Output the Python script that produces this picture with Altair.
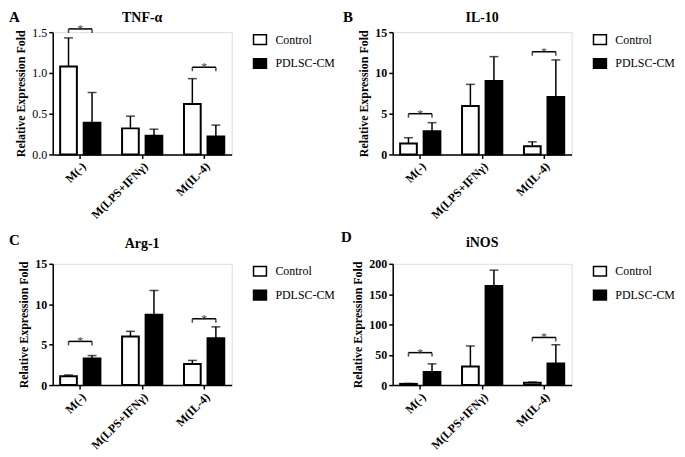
import altair as alt
import pandas as pd

FONT = "Liberation Serif"

CATEGORIES = ["M(-)", "M(LPS+IFNγ)", "M(IL-4)"]
GROUPS = ["Control", "PDLSC-CM"]
TITLES = ["TNF-α", "IL-10", "Arg-1", "iNOS"]
LETTERS = ["A", "B", "C", "D"]
Y_TITLE = "Relative Expression Fold"

# mean values and top of the error bar (mean + SD), per category
TNF_CONTROL = [1.08, 0.32, 0.62]
TNF_CONTROL_TOP = [1.43, 0.47, 0.93]
TNF_PDLSC = [0.39, 0.23, 0.22]
TNF_PDLSC_TOP = [0.76, 0.31, 0.36]
TNF_SIG = [1.54, None, 1.07]

IL10_CONTROL = [1.35, 5.95, 1.0]
IL10_CONTROL_TOP = [2.05, 8.6, 1.55]
IL10_PDLSC = [2.85, 9.0, 7.05]
IL10_PDLSC_TOP = [3.9, 12.0, 11.6]
IL10_SIG = [5.0, None, 12.6]

ARG_CONTROL = [1.1, 6.0, 2.6]
ARG_CONTROL_TOP = [1.25, 6.65, 3.05]
ARG_PDLSC = [3.3, 8.7, 5.8]
ARG_PDLSC_TOP = [3.65, 11.7, 7.2]
ARG_SIG = [5.4, None, 8.2]

INOS_CONTROL = [2.0, 30.5, 4.0]
INOS_CONTROL_TOP = [2.6, 64.5, 5.0]
INOS_PDLSC = [21.5, 163.5, 35.5]
INOS_PDLSC_TOP = [35.0, 189.5, 66.5]
INOS_SIG = [53.5, None, 78.5]

Y_MAX = [1.5, 15, 15, 200]
Y_TICKS = [[0, 0.5, 1.0, 1.5], [0, 5, 10, 15], [0, 5, 10, 15], [0, 50, 100, 150, 200]]
Y_FORMAT = [".1f", "d", "d", "d"]


def panel(idx, ctrl, ctrl_top, pdl, pdl_top, sig, w, h, letter_dx, head_dy, bold_ticks):
    cats = CATEGORIES * 2
    grps = [GROUPS[0]] * 3 + [GROUPS[1]] * 3
    df = pd.DataFrame({"cat": cats, "grp": grps, "val": ctrl + pdl, "top": ctrl_top + pdl_top})
    cap_df = pd.DataFrame({"cat": cats, "grp": grps, "val": ctrl_top + pdl_top})
    sig_cats = [c for c, l in zip(CATEGORIES, sig) if l is not None]
    sig_lvls = [l for l in sig if l is not None]
    sig_df = pd.DataFrame({"cat": sig_cats, "val": sig_lvls, "star": ["*"] * len(sig_cats)})
    br_df = sig_df.merge(pd.DataFrame({"grp": GROUPS}), how="cross")

    xs = alt.Scale(domain=CATEGORIES, paddingInner=0.35, paddingOuter=0.12)
    xos = alt.Scale(domain=GROUPS, paddingInner=0.29, paddingOuter=0)
    ys = alt.Scale(domain=[0, Y_MAX[idx]], nice=False, zero=True)
    cs = alt.Scale(domain=GROUPS, range=["white", "black"])

    x_axis = alt.Axis(
        labelAngle=-45, labelFont=FONT, labelFontSize=12, labelFontWeight="bold",
        labelColor="black", tickSize=4, tickWidth=1.5, tickColor="black",
        domainWidth=1.5, domainColor="black", labelPadding=2, title=None,
    )
    y_axis = alt.Axis(
        values=Y_TICKS[idx], format=Y_FORMAT[idx], title=Y_TITLE,
        titleFont=FONT, titleFontSize=12, titleFontWeight="bold", titleColor="black",
        labelFont=FONT, labelFontSize=12, labelOverlap=False,
        labelFontWeight="bold" if bold_ticks else "normal", labelColor="black",
        tickSize=4, tickWidth=1.5, tickColor="black", domainWidth=1.5,
        domainColor="black", labelPadding=2, titlePadding=4, grid=False,
    )
    legend = alt.Legend(
        title=None, orient="none", legendX=w + 21, legendY=0,
        symbolType="M-1,-0.75H1V0.75H-1Z", symbolSize=169,
        symbolStrokeColor="black", symbolStrokeWidth=1.5,
        labelFont=FONT, labelFontSize=12, labelColor="black",
        labelOffset=8, rowPadding=7, padding=0,
    )

    def xc():
        return alt.X("cat:N", scale=xs, sort=CATEGORIES, axis=x_axis)

    def xo():
        return alt.XOffset("grp:N", scale=xos, sort=GROUPS)

    def yv():
        return alt.Y("val:Q", scale=ys, axis=y_axis)

    bars = alt.Chart(df).mark_bar(stroke="black", strokeWidth=2).encode(
        x=xc(), xOffset=xo(), y=yv(),
        color=alt.Color("grp:N", scale=cs, legend=legend),
    )
    err = alt.Chart(df).mark_rule(color="black", strokeWidth=1.5).encode(
        x=xc(), xOffset=xo(), y=yv(), y2="top:Q",
    )
    cap = alt.Chart(cap_df).mark_tick(color="black", thickness=1.5, size=9).encode(
        x=xc(), xOffset=xo(), y=yv(),
    )
    br_line = alt.Chart(br_df).mark_line(color="black", strokeWidth=1.5).encode(
        x=xc(), xOffset=xo(), y=yv(), detail="cat:N",
    )
    br_end = alt.Chart(br_df).mark_tick(
        color="black", orient="vertical", size=4, thickness=1.5, yOffset=2
    ).encode(x=xc(), xOffset=xo(), y=yv())
    star = alt.Chart(sig_df).mark_text(
        font=FONT, fontSize=12, color="#444444", baseline="alphabetic", dy=4
    ).encode(x=xc(), y=yv(), text="star:N")
    head = pd.DataFrame({"letter": [LETTERS[idx]], "title": [TITLES[idx]]})
    letter = alt.Chart(head).mark_text(
        font=FONT, fontSize=15, fontWeight="bold", align="left",
        baseline="alphabetic", color="black",
    ).encode(x=alt.value(letter_dx), y=alt.value(head_dy[0]), text="letter:N")
    title = alt.Chart(head).mark_text(
        font=FONT, fontSize=14, fontWeight="bold", align="center",
        baseline="alphabetic", color="black",
    ).encode(x=alt.value(w / 2), y=alt.value(head_dy[1]), text="title:N")

    return alt.layer(bars, err, cap, br_line, br_end, star, letter, title).properties(
        width=w, height=h
    )


pA = panel(0, TNF_CONTROL, TNF_CONTROL_TOP, TNF_PDLSC, TNF_PDLSC_TOP, TNF_SIG,
           180, 123, -44, (-10, -10), False)
pB = panel(1, IL10_CONTROL, IL10_CONTROL_TOP, IL10_PDLSC, IL10_PDLSC_TOP, IL10_SIG,
           180, 123, -50, (-10, -10), True)
pC = panel(2, ARG_CONTROL, ARG_CONTROL_TOP, ARG_PDLSC, ARG_PDLSC_TOP, ARG_SIG,
           180, 122, -44, (-19, -16), True)
pD = panel(3, INOS_CONTROL, INOS_CONTROL_TOP, INOS_PDLSC, INOS_PDLSC_TOP, INOS_SIG,
           180, 122, -52, (-22, -17), True)

chart = alt.concat(
    pA, pB, pC, pD, columns=2,
    spacing=alt.RowColnumber(row=110, column=162), bounds="flush",
).resolve_scale(
    x="independent", y="independent", color="independent", xOffset="independent"
).properties(
    padding=0, background="white"
).configure_view(stroke=None, strokeWidth=0).configure(font=FONT)

chart.save("out.html", embed_options={"renderer": "svg", "actions": False})
